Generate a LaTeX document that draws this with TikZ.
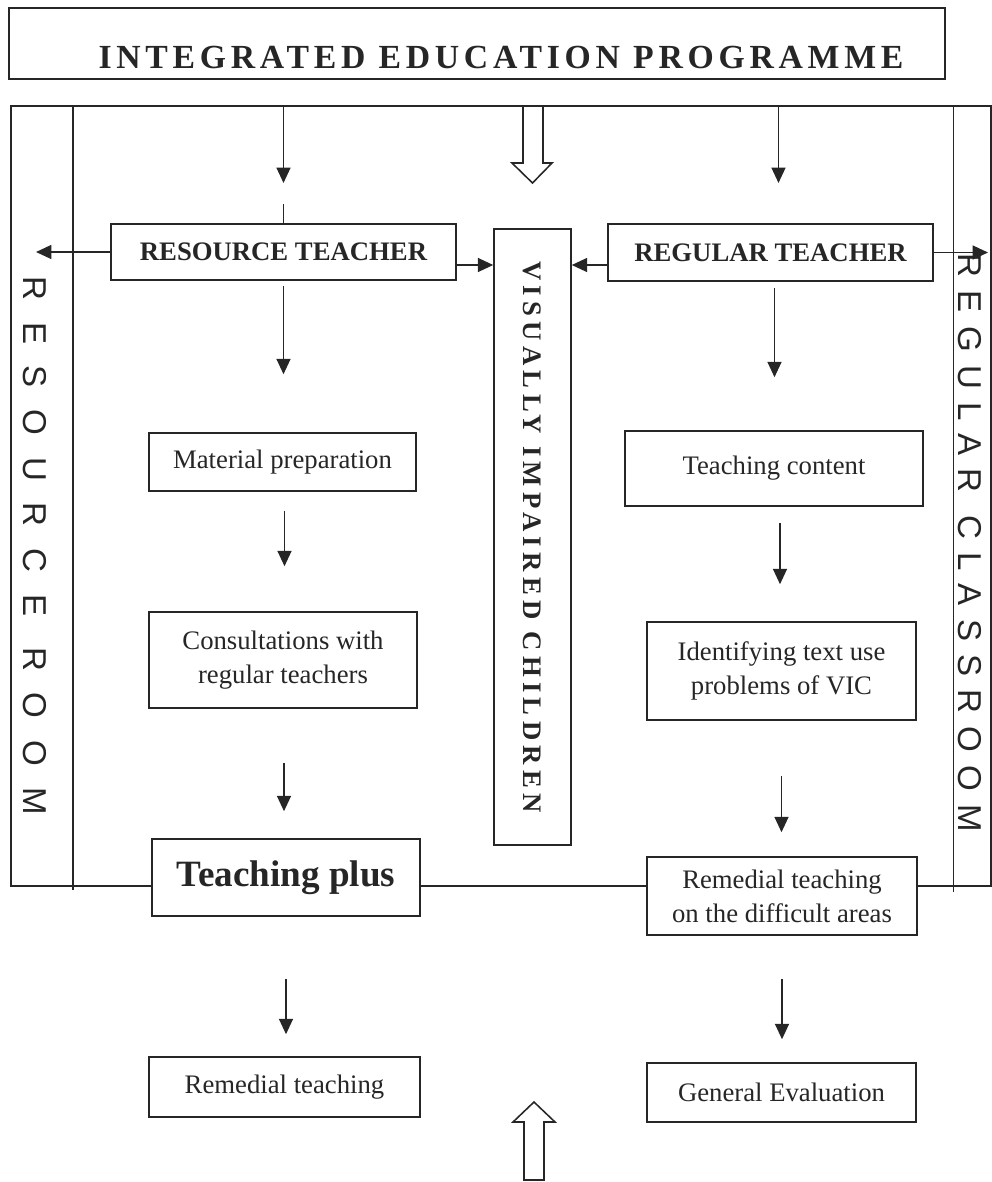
\documentclass[tikz,border=0pt]{standalone}
\usepackage{fontspec}
\setmainfont{Liberation Serif}
\newfontfamily\titlefont[LetterSpace=14]{Liberation Serif}
\newfontfamily\vicfont[LetterSpace=20]{Liberation Serif}
\newfontfamily\rroomfont[LetterSpace=66]{Liberation Sans}
\newfontfamily\rclassfont[LetterSpace=40]{Liberation Sans}
\usepackage{xcolor}
\definecolor{ink}{RGB}{38,38,38}
\usetikzlibrary{arrows.meta,positioning,calc}

\begin{document}
\begin{tikzpicture}[
  box/.style={rectangle,draw=ink,fill=white,line width=1.1pt,inner sep=2pt,
              align=center,text=ink,font=\fontsize{19}{24}\selectfont},
  head/.style={box,font=\fontsize{19}{24}\selectfont\bfseries},
  arr/.style={-{Triangle[width=10pt,length=11pt]},draw=ink,line width=1.1pt},
  hollow/.style={draw=ink,line width=1.1pt,line join=miter},
]
  \useasboundingbox (0,0) rectangle (24.8,-29.55);

  %% title
  \node[draw=ink,line width=1.1pt,minimum width=23.4cm,minimum height=1.775cm,
        inner sep=0](title) at (11.925,-1.0875) {};
  \node[anchor=base,inner sep=0,text=ink,
        font=\titlefont\fontsize{24}{28}\selectfont\bfseries](titletxt)
    at ([xshift=0.6cm,yshift=-0.6125cm]title.center) {INTEGRATED EDUCATION PROGRAMME};

  %% frame with the two rooms
  \node[draw=ink,line width=1.1pt,minimum width=24.5cm,minimum height=19.5cm,
        inner sep=0,anchor=north west](frame) at (0.25,-2.625) {};
  \draw[ink,line width=1.1pt]
    ([xshift=1.575cm]frame.north west) -- ++(0,-19.625);
  \draw[ink,line width=1.1pt]
    ([xshift=-0.95cm]frame.north east) -- ++(0,-19.675);
  \node[inner sep=0,text=ink](rroom) at (0.875,-13.65)
    {\rotatebox{-90}{\rroomfont\fontsize{23.5}{24}\selectfont RESOURCE ROOM}};
  \node[inner sep=0,text=ink](rclass) at (24.25,-13.575)
    {\rotatebox{-90}{\rclassfont\fontsize{23.5}{24}\selectfont REGULAR CLASSROOM}};

  %% teachers and children
  \node[head,minimum width=8.625cm,minimum height=1.4cm](rteach)
    at (7.0875,-6.3) {RESOURCE TEACHER};
  \node[head,minimum width=8.125cm,minimum height=1.425cm](gteach)
    at (19.2625,-6.3125) {REGULAR TEACHER};
  \node[box,minimum width=1.925cm,minimum height=15.4cm](vic)
    at (13.3125,-13.425) {\rotatebox{-90}{\vicfont\bfseries VISUALLY IMPAIRED CHILDREN}};

  %% resource room column
  \node[box,minimum width=6.675cm,minimum height=1.45cm](matprep)
    at (7.0625,-11.55) {Material preparation};
  \node[box,minimum width=6.7cm,minimum height=2.4cm](consult)
    at (7.075,-16.5) {Consultations with\\regular teachers};
  \node[box,minimum width=6.7cm,minimum height=1.925cm,
        font=\fontsize{26.4}{30}\selectfont\bfseries](tplus)
    at (7.15,-21.9375) {Teaching plus};
  \node[box,minimum width=6.775cm,minimum height=1.5cm](remed)
    at (7.1125,-27.175) {Remedial teaching};

  %% regular classroom column
  \node[box,minimum width=7.45cm,minimum height=1.875cm](tcontent)
    at (19.35,-11.7125) {Teaching content};
  \node[box,minimum width=6.725cm,minimum height=2.45cm](identify)
    at (19.5375,-16.775) {Identifying text use\\problems of VIC};
  \node[box,minimum width=6.75cm,minimum height=1.95cm](remdiff)
    at (19.55,-22.4) {Remedial teaching\\on the difficult areas};
  \node[box,minimum width=6.725cm,minimum height=1.475cm](geneval)
    at (19.5375,-27.3125) {General Evaluation};

  %% arrows from the programme
  \draw[arr] (rteach.north |- frame.north) -- ++(0,-1.95);
  \draw[ink,line width=1.1pt] (rteach.north) -- ++(0,0.475);
  \draw[arr] ([xshift=0.2cm]gteach.north |- frame.north) -- ++(0,-1.95);

  %% sideways arrows
  \coordinate (rroomin) at (0.9,-6.25);
  \coordinate (rclassin) at (24.7,-6.3);
  \draw[arr] (rteach.west) -- (rteach.west -| rroomin);
  \draw[arr] (gteach.east) -- (gteach.east -| rclassin);
  \draw[arr] ([yshift=-0.325cm]rteach.east) -- ([yshift=-0.325cm]rteach.east -| vic.west);
  \draw[arr] ([yshift=-0.3125cm]gteach.west) -- ([yshift=-0.3125cm]gteach.west -| vic.east);

  %% downward arrows
  \foreach \from/\to/\gapa/\gapb/\dx in {%
      rteach/matprep/.125/1.45/0, matprep/consult/.475/1.125/.05,
      consult/tplus/1.35/.675/.025, tplus/remed/1.55/.55/0,
      gteach/tcontent/.15/1.325/.1, tcontent/identify/.4/.925/.15,
      identify/remdiff/1.375/.6/0, remdiff/geneval/1.075/.575/0}{%
    \draw[arr,shorten <=\gapa cm,shorten >=\gapb cm]
      ([xshift=\dx cm]\from.south) -- ([xshift=\dx cm]\from.south |- \to.north);
  }

  %% hollow arrows
  \draw[hollow] (13.075,-2.625) -- (13.075,-4.075) -- (12.8,-4.075) -- (13.3125,-4.575)
    -- (13.8,-4.075) -- (13.575,-4.075) -- (13.575,-2.625);
  \draw[hollow] (13.1,-29.5) -- (13.1,-28.05) -- (12.825,-28.05) -- (13.35,-27.55)
    -- (13.875,-28.05) -- (13.6,-28.05) -- (13.6,-29.5) -- cycle;
\end{tikzpicture}
\end{document}
